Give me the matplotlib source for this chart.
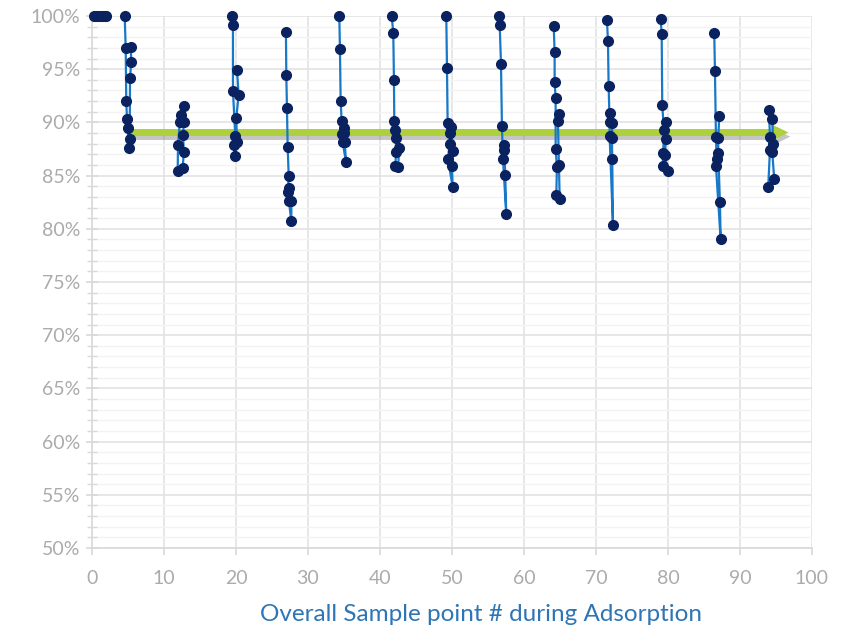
import matplotlib
matplotlib.use('Agg')
import matplotlib.pyplot as plt
import matplotlib.patheffects as pe
from matplotlib.ticker import MultipleLocator, FuncFormatter

# each group: (x values, y values in %) in drawing order
blob_x = [0.3, 0.6, 0.9, 1.2, 1.5, 1.8, 2.0]
blob_y = [100, 100, 100, 100, 100, 100, 100]

g1_x = [4.54, 4.68, 4.76, 4.86, 4.96, 5.10, 5.24, 5.28, 5.46, 5.38]
g1_y = [100, 97.0, 92.0, 90.3, 89.5, 87.6, 88.4, 94.2, 95.7, 97.1]

g2_x = [12.3, 12.2, 11.95, 11.9, 12.6, 12.75, 12.65, 12.75, 12.8]
g2_y = [90.7, 90.0, 87.9, 85.4, 85.7, 87.2, 88.8, 90.0, 91.5]

g3_x = [19.44, 19.58, 19.58, 19.9, 19.68, 19.82, 20.14, 20.04, 20.37, 20.14]
g3_y = [100, 99.2, 92.95, 88.75, 87.9, 86.8, 88.2, 90.4, 92.6, 94.9]

g4_x = [26.94, 26.99, 27.08, 27.18, 27.32, 27.22, 27.36, 27.68, 27.7, 27.4]
g4_y = [98.5, 94.45, 91.4, 87.7, 85.0, 83.5, 82.6, 80.7, 82.6, 83.8]

g5_x = [34.35, 34.44, 34.54, 34.68, 34.72, 34.8, 35.28, 35.1, 35.0, 35.0]
g5_y = [100, 96.9, 92.0, 90.1, 88.9, 88.2, 86.3, 88.2, 89.0, 89.5]

g6_x = [41.63, 41.85, 41.94, 41.99, 42.08, 42.22, 42.22, 42.15, 42.54, 42.64]
g6_y = [100, 98.4, 94.0, 90.1, 89.3, 88.5, 87.2, 85.9, 85.8, 87.6]

g7_x = [49.21, 49.31, 49.40, 49.68, 49.68, 49.44, 50.10, 50.0, 50.14, 49.86]
g7_y = [100, 95.1, 89.9, 89.0, 88.0, 86.6, 83.9, 85.9, 87.3, 89.6]

g8_x = [56.49, 56.63, 56.81, 56.94, 57.08, 57.54, 57.40, 57.26, 57.18]
g8_y = [100, 99.2, 95.5, 89.7, 86.6, 81.4, 85.1, 87.4, 87.9]

g9_x = [64.13, 64.26, 64.26, 64.40, 64.40, 64.58, 64.49, 64.96, 64.86, 64.72, 64.86]
g9_y = [99.1, 96.6, 93.8, 92.3, 87.5, 85.8, 83.2, 82.8, 86.0, 90.1, 90.8]

g10_x = [71.53, 71.67, 71.76, 71.90, 71.90, 72.36, 72.26, 72.22, 72.26, 71.99]
g10_y = [99.6, 97.65, 93.4, 90.0, 88.75, 80.4, 86.6, 88.5, 89.9, 90.9]

g11_x = [78.99, 79.13, 79.21, 79.44, 79.35, 79.26, 79.96, 79.58, 79.72, 79.72]
g11_y = [99.7, 98.3, 91.6, 89.3, 87.1, 85.9, 85.4, 86.9, 88.4, 90.0]

g12_x = [86.43, 86.53, 86.67, 86.76, 86.67, 87.32, 87.22, 86.99, 86.99, 87.13]
g12_y = [98.4, 94.8, 88.6, 86.6, 85.9, 79.0, 82.5, 87.1, 88.5, 90.6]

g13_x = [94.03, 94.17, 94.17, 93.93, 94.76, 94.49, 94.63, 94.49]
g13_y = [91.2, 88.65, 87.4, 83.95, 84.7, 87.2, 88.0, 90.3]

groups = [(blob_x, blob_y), (g1_x, g1_y), (g2_x, g2_y), (g3_x, g3_y), (g4_x, g4_y),
          (g5_x, g5_y), (g6_x, g6_y), (g7_x, g7_y), (g8_x, g8_y), (g9_x, g9_y),
          (g10_x, g10_y), (g11_x, g11_y), (g12_x, g12_y), (g13_x, g13_y)]

# trend arrow
arrow_x0, arrow_x1, arrow_y = 5.4, 96.7, 89.05

x_ticks = list(range(0, 101, 10))
y_ticks = list(range(50, 101, 5))

plt.rcParams['font.family'] = ['Lato', 'DejaVu Sans']

fig = plt.figure(figsize=(8.44, 6.25), dpi=100)
ax = fig.add_axes([0.109, 0.1232, 0.853, 0.8512])

tick_col = '#ababab'
grid_col = '#e3e3e3'

ax.set_xlim(0, 100)
ax.set_ylim(50, 100)
ax.set_xticks(x_ticks)
ax.set_yticks(y_ticks)
ax.yaxis.set_minor_locator(MultipleLocator(1))
ax.yaxis.set_major_formatter(FuncFormatter(lambda v, p: f'{v:.0f}%'))

ax.grid(True, which='major', color=grid_col, lw=1.2, zorder=0)
ax.grid(True, which='minor', axis='y', color='#f3f3f3', lw=1.0, zorder=0)
ax.set_axisbelow(True)

for s in ['top', 'right']:
    ax.spines[s].set_visible(False)
for s in ['left', 'bottom']:
    ax.spines[s].set_color('#d9d9d9')
    ax.spines[s].set_linewidth(1.2)

ax.tick_params(axis='both', which='major', colors='#d9d9d9', labelcolor=tick_col,
               labelsize=14, width=1.2)
ax.tick_params(axis='y', which='major', direction='inout', length=9, pad=4)
ax.tick_params(axis='y', which='minor', direction='inout', length=7, color='#d9d9d9', width=1.0)
ax.tick_params(axis='x', which='major', direction='out', length=5, pad=11)

# green arrow with soft shadow
arr = ax.arrow(arrow_x0, arrow_y, arrow_x1 - arrow_x0, 0, width=0.62, head_width=1.5,
               head_length=2.3, length_includes_head=True, color='#add03c', lw=0, zorder=2)
arr.set_path_effects([pe.withSimplePatchShadow(offset=(1.5, -3), shadow_rgbFace='#6f6f6f', alpha=0.4),
                      pe.Normal()])

for gx, gy in groups:
    ax.plot(gx, gy, color='#1878c8', lw=1.6, zorder=3, clip_on=False)
    ax.plot(gx, gy, 'o', color='#0a2260', ms=7, mec='#0a2260', zorder=4, clip_on=False)

ax.set_xlabel('Overall Sample point # during Adsorption', color='#2e75b6', fontsize=17.5, labelpad=10)
ax.xaxis.set_label_coords(0.54, -0.105)

fig.savefig('out.png', dpi=100)
